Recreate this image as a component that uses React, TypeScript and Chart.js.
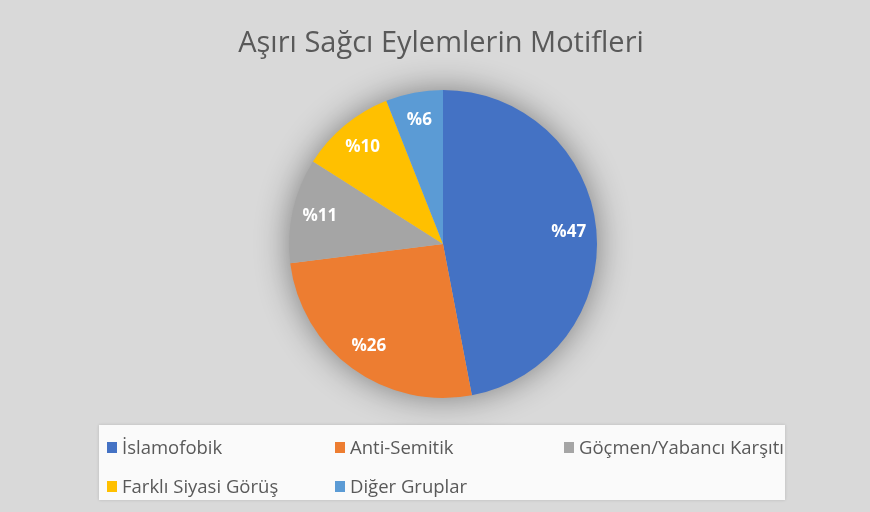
import React, { useEffect, useRef } from "react";
import { Chart, registerables } from "chart.js";

Chart.register(...registerables);

const TITLE = "Aşırı Sağcı Eylemlerin Motifleri";
const categories = [
  "İslamofobik",
  "Anti-Semitik",
  "Göçmen/Yabancı Karşıtı",
  "Farklı Siyasi Görüş",
  "Diğer Gruplar",
];
const values = [47, 26, 11, 10, 6];
const colors = ["#4472C4", "#ED7D31", "#A5A5A5", "#FFC000", "#5B9BD5"];

const FONT = "'Open Sans', Lato, sans-serif";

const titlePlugin = {
  id: "customTitle",
  afterDraw(chart: any) {
    const ctx = chart.ctx;
    const { left, right } = chart.chartArea;
    ctx.save();
    ctx.fillStyle = "#595959";
    ctx.font = `normal 29px ${FONT}`;
    ctx.textAlign = "center";
    ctx.textBaseline = "alphabetic";
    ctx.fillText(TITLE, (left + right) / 2 - 2, 52);
    ctx.restore();
  },
};

const shadowPlugin = {
  id: "pieShadow",
  beforeDatasetsDraw(chart: any) {
    const meta = chart.getDatasetMeta(0);
    const arc = meta.data[0];
    if (!arc) return;
    const { x, y, outerRadius } = arc.getProps(["x", "y", "outerRadius"], true);
    const ctx = chart.ctx;
    ctx.save();
    ctx.shadowColor = "rgba(0,0,0,0.45)";
    ctx.shadowBlur = 34;
    ctx.fillStyle = "#bbbbbb";
    ctx.beginPath();
    ctx.arc(x, y, outerRadius - 1, 0, Math.PI * 2);
    ctx.fill();
    ctx.restore();
  },
};

const labelPlugin = {
  id: "sliceLabels",
  afterDatasetsDraw(chart: any) {
    const ctx = chart.ctx;
    const meta = chart.getDatasetMeta(0);
    ctx.save();
    ctx.fillStyle = "#ffffff";
    ctx.font = `bold 17px ${FONT}`;
    ctx.textAlign = "center";
    ctx.textBaseline = "middle";
    meta.data.forEach((el: any, i: number) => {
      const { x, y, startAngle, endAngle, outerRadius } = el.getProps(
        ["x", "y", "startAngle", "endAngle", "outerRadius"],
        true
      );
      const mid = (startAngle + endAngle) / 2;
      const r = outerRadius * 0.82;
      ctx.fillText("%" + values[i], x + Math.cos(mid) * r, y + Math.sin(mid) * r);
    });
    ctx.restore();
  },
};

const legendPos = [
  { left: 8, top: 10 },
  { left: 236, top: 10 },
  { left: 465, top: 10 },
  { left: 8, top: 49 },
  { left: 236, top: 49 },
];

export default function App() {
  const canvasRef = useRef<HTMLCanvasElement>(null);

  useEffect(() => {
    document.body.style.margin = "0";
    const ctx = canvasRef.current!.getContext("2d")!;
    const chart = new Chart(ctx, {
      type: "pie",
      data: {
        labels: categories,
        datasets: [
          {
            data: values,
            backgroundColor: colors,
            borderWidth: 0,
          },
        ],
      },
      options: {
        responsive: false,
        animation: false,
        layout: { padding: { top: 90, left: 289, right: 273, bottom: 114 } },
        plugins: {
          legend: { display: false },
          tooltip: { enabled: false },
          title: { display: false },
        },
      },
      plugins: [shadowPlugin, labelPlugin, titlePlugin],
    });
    return () => chart.destroy();
  }, []);

  return (
    <div
      style={{
        position: "relative",
        width: 870,
        height: 512,
        background: "#d9d9d9",
        overflow: "hidden",
        fontFamily: FONT,
      }}
    >
      <canvas
        ref={canvasRef}
        width={870}
        height={512}
        style={{ position: "absolute", left: 0, top: 0 }}
      />
      <div
        style={{
          position: "absolute",
          left: 99,
          top: 425,
          width: 686,
          height: 75,
          background: "#fafafa",
          boxShadow: "0 0 3px rgba(0,0,0,0.15)",
          overflow: "hidden",
        }}
      >
        {categories.map((c, i) => (
          <div
            key={c}
            style={{
              position: "absolute",
              left: legendPos[i].left,
              top: legendPos[i].top,
              display: "flex",
              alignItems: "center",
              whiteSpace: "nowrap",
              color: "#595959",
              fontSize: 18.5,
              lineHeight: "24px",
            }}
          >
            <span
              style={{
                display: "inline-block",
                width: 10,
                height: 11,
                background: colors[i],
                marginRight: 5,
              }}
            />
            <span>{c}</span>
          </div>
        ))}
      </div>
    </div>
  );
}
